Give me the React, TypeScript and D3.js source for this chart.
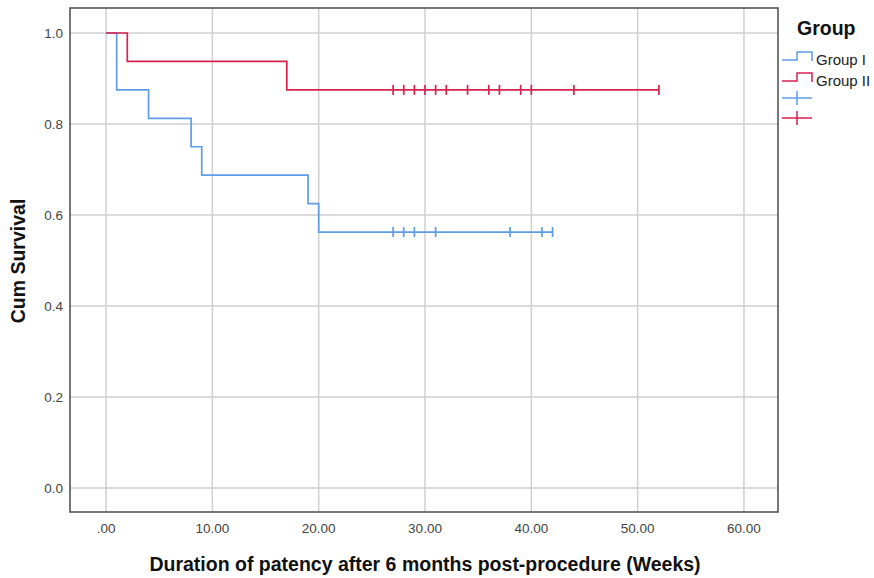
import React, { useEffect, useRef } from 'react';
import * as d3 from 'd3';

// Kaplan-Meier steps
const group1Times = [0, 1, 4, 8, 9, 19, 20];
const group1Surv = [1.0, 0.875, 0.8125, 0.75, 0.6875, 0.625, 0.5625];
const group1End = 42;
const group1Censored = [27, 28, 29, 31, 38, 41, 42];

const group2Times = [0, 2, 17];
const group2Surv = [1.0, 0.9375, 0.875];
const group2End = 52;
const group2Censored = [27, 28, 29, 30, 31, 32, 34, 36, 37, 39, 40, 44, 52];

const xTicks = [0, 10, 20, 30, 40, 50, 60];
const yTicks = [0, 0.2, 0.4, 0.6, 0.8, 1.0];
const groupNames = ['Group I', 'Group II'];

const BLUE = '#5e9de6';
const RED = '#d9214f';
const FONT = 'Liberation Sans, Arial, sans-serif';

const App: React.FC = () => {
    const ref = useRef<SVGSVGElement | null>(null);

    useEffect(() => {
        if (!ref.current) return;
        const width = 874;
        const height = 578;
        const frame = { left: 70, right: 778, top: 8, bottom: 512 };

        const svg = d3.select(ref.current)
            .attr('width', width)
            .attr('height', height);
        svg.selectAll('*').remove();

        svg.append('rect').attr('width', width).attr('height', height).attr('fill', '#fff');

        const x = d3.scaleLinear().domain([-3.39, 63.2]).range([frame.left, frame.right]);
        const y = d3.scaleLinear().domain([0, 1]).range([488, 33]);

        // grid
        const grid = svg.append('g').attr('stroke', '#cfcfcf').attr('stroke-width', 1.5);
        xTicks.forEach(t => {
            grid.append('line').attr('x1', x(t)).attr('x2', x(t)).attr('y1', frame.top).attr('y2', frame.bottom);
        });
        yTicks.forEach(t => {
            grid.append('line').attr('x1', frame.left).attr('x2', frame.right).attr('y1', y(t)).attr('y2', y(t));
        });

        // tick labels
        svg.append('g')
            .selectAll('text')
            .data(xTicks)
            .join('text')
            .attr('x', d => x(d))
            .attr('y', 533)
            .attr('text-anchor', 'middle')
            .attr('font-family', FONT)
            .attr('font-size', '13.5px')
            .attr('fill', '#444')
            .text(d => d === 0 ? '.00' : d3.format('.2f')(d));

        svg.append('g')
            .selectAll('text')
            .data(yTicks)
            .join('text')
            .attr('x', 63)
            .attr('y', d => y(d) + 5)
            .attr('text-anchor', 'end')
            .attr('font-family', FONT)
            .attr('font-size', '13.5px')
            .attr('fill', '#444')
            .text(d => d3.format('.1f')(d));

        const stepLine = d3.line<[number, number]>()
            .x(d => x(d[0]))
            .y(d => y(d[1]))
            .curve(d3.curveStepAfter);

        const drawGroup = (times: number[], surv: number[], end: number, cens: number[], color: string) => {
            const pts: [number, number][] = times.map((t, i) => [t, surv[i]]);
            pts.push([end, surv[surv.length - 1]]);
            svg.append('path')
                .datum(pts)
                .attr('d', stepLine)
                .attr('fill', 'none')
                .attr('stroke', color)
                .attr('stroke-width', 1.7);
            const survAt = (t: number) => {
                let s = surv[0];
                times.forEach((tt, i) => { if (tt <= t) s = surv[i]; });
                return s;
            };
            svg.append('g')
                .selectAll('line')
                .data(cens)
                .join('line')
                .attr('x1', d => x(d))
                .attr('x2', d => x(d))
                .attr('y1', d => y(survAt(d)) - 5)
                .attr('y2', d => y(survAt(d)) + 5)
                .attr('stroke', color)
                .attr('stroke-width', 1.7);
        };

        drawGroup(group1Times, group1Surv, group1End, group1Censored, BLUE);
        drawGroup(group2Times, group2Surv, group2End, group2Censored, RED);

        // frame
        svg.append('rect')
            .attr('x', frame.left)
            .attr('y', frame.top)
            .attr('width', frame.right - frame.left)
            .attr('height', frame.bottom - frame.top)
            .attr('fill', 'none')
            .attr('stroke', '#555')
            .attr('stroke-width', 1.6);

        // axis titles
        svg.append('text')
            .attr('x', 425)
            .attr('y', 571)
            .attr('text-anchor', 'middle')
            .attr('font-family', FONT)
            .attr('font-size', '19.5px')
            .attr('font-weight', 'bold')
            .attr('fill', '#111')
            .text('Duration of patency after 6 months post-procedure (Weeks)');

        svg.append('text')
            .attr('transform', 'rotate(-90)')
            .attr('x', -261)
            .attr('y', 25)
            .attr('text-anchor', 'middle')
            .attr('font-family', FONT)
            .attr('font-size', '19.5px')
            .attr('font-weight', 'bold')
            .attr('fill', '#111')
            .text('Cum Survival');

        // legend
        const lg = svg.append('g');
        lg.append('rect').attr('x', 779).attr('y', 0).attr('width', 95).attr('height', 132).attr('fill', '#fff');
        lg.append('text')
            .attr('x', 797)
            .attr('y', 35)
            .attr('font-family', FONT)
            .attr('font-size', '19.5px')
            .attr('font-weight', 'bold')
            .attr('fill', '#111')
            .text('Group');

        const colors = [BLUE, RED];
        groupNames.forEach((name, i) => {
            const yl = 60 + i * 21;
            lg.append('path')
                .attr('d', `M782,${yl}H797V${yl - 8}H812V${yl + 1}`)
                .attr('fill', 'none')
                .attr('stroke', colors[i])
                .attr('stroke-width', 1.5);
            lg.append('text')
                .attr('x', 816)
                .attr('y', yl + 5)
                .attr('font-family', FONT)
                .attr('font-size', '15px')
                .attr('fill', '#222')
                .text(name);
        });
        colors.forEach((c, i) => {
            const yc = 98 + i * 20;
            lg.append('line').attr('x1', 782).attr('x2', 812).attr('y1', yc).attr('y2', yc)
                .attr('stroke', c).attr('stroke-width', 1.5);
            lg.append('line').attr('x1', 797).attr('x2', 797).attr('y1', yc - 7).attr('y2', yc + 7)
                .attr('stroke', c).attr('stroke-width', 1.5);
        });
    }, []);

    return <svg ref={ref} style={{ position: 'absolute', left: 0, top: 0 }}></svg>;
};

export default App;
